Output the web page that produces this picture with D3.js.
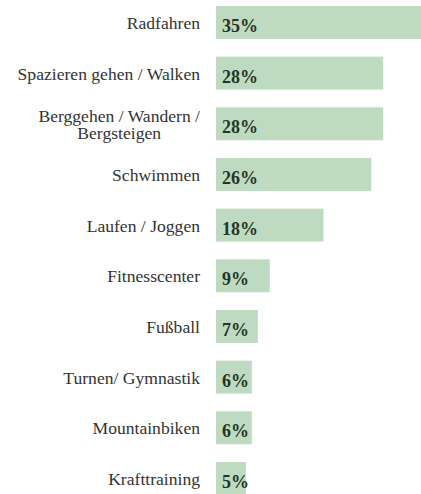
<!DOCTYPE html>
<html>
<head>
<meta charset="utf-8">
<script src="https://cdn.jsdelivr.net/npm/d3@7"></script>
<style>
  html, body { margin: 0; padding: 0; background: #ffffff; }
  svg { display: block; }
</style>
</head>
<body>
<svg id="chart" width="421" height="494"></svg>
<script>
// Sportarten und Anteil der Befragten (in %)
const categories = [
  ["Radfahren"],
  ["Spazieren gehen / Walken"],
  ["Berggehen / Wandern /", "Bergsteigen"],
  ["Schwimmen"],
  ["Laufen / Joggen"],
  ["Fitnesscenter"],
  ["Fußball"],
  ["Turnen/ Gymnastik"],
  ["Mountainbiken"],
  ["Krafttraining"]
];
const values = [35, 28, 28, 26, 18, 9, 7, 6, 6, 5];
const valueLabels = ["35%", "28%", "28%", "26%", "18%", "9%", "7%", "6%", "6%", "5%"];

const barLeft = 216;
const labelRight = 200;
const serif = '"Liberation Serif", "Times New Roman", serif';

const svg = d3.select("#chart");
const rows = d3.range(values.length);

const x = d3.scaleLinear()
  .domain([0, 35])
  .range([barLeft, barLeft + 209]);

const y = d3.scaleBand()
  .domain(rows)
  .range([-2.9, 503.8])
  .paddingInner(0.35)
  .paddingOuter(0.175);

// Balken
svg.append("g")
  .selectAll("rect")
  .data(rows)
  .join("rect")
  .attr("x", x(0))
  .attr("y", i => y(i))
  .attr("width", i => x(values[i]) - x(0))
  .attr("height", y.bandwidth())
  .attr("fill", "#bedbc1");

// Prozentwerte im Balken
svg.append("g")
  .selectAll("text")
  .data(rows)
  .join("text")
  .attr("x", x(0) + 6)
  .attr("y", i => y(i) + y.bandwidth() / 2 + 9.5)
  .style("font-family", serif)
  .style("font-size", "18px")
  .style("font-weight", "bold")
  .style("fill", "#253525")
  .text(i => valueLabels[i]);

// Kategorienbeschriftung: eine Zeile pro text-Element, Block rechtsbündig, Zeilen zentriert
const labelGroup = svg.append("g");
const lineH = 17;

rows.forEach(i => {
  const lines = categories[i];
  const cy = y(i) + y.bandwidth() / 2;
  const firstBase = cy + 6.5 - (lines.length - 1) * lineH / 2;
  const texts = lines.map((line, k) =>
    labelGroup.append("text")
      .attr("y", firstBase + k * lineH)
      .style("font-family", serif)
      .style("font-size", "17.6px")
      .style("fill", "#333333")
      .text(line)
  );
  const maxW = d3.max(texts, t => t.node().getComputedTextLength());
  const center = labelRight - maxW / 2;
  texts.forEach(t => t.attr("x", center).attr("text-anchor", "middle"));
});
</script>
</body>
</html>
